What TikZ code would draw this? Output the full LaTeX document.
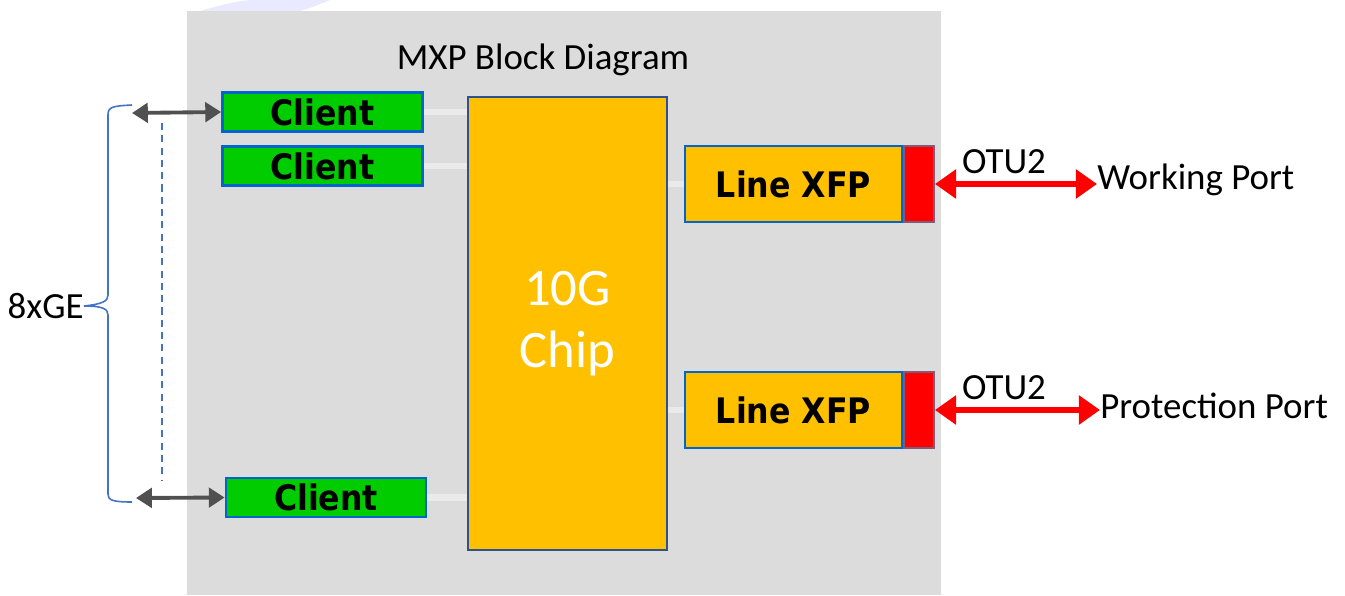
\documentclass[tikz,border=0pt]{standalone}
\usepackage{fontspec}
\setmainfont{Carlito}
\newfontfamily\boldface{DejaVu Sans Condensed}[BoldFont={DejaVu Sans Condensed Bold}]
\usetikzlibrary{arrows.meta}

\definecolor{bggray}{RGB}{220,220,220}
\definecolor{linkgray}{RGB}{234,234,234}
\definecolor{clientgreen}{RGB}{0,204,0}
\definecolor{edgeblue}{RGB}{0,102,204}
\definecolor{chiporange}{RGB}{255,192,0}
\definecolor{chipedge}{RGB}{47,82,143}
\definecolor{portedge}{RGB}{128,90,120}
\definecolor{arrowgray}{RGB}{80,80,80}
\definecolor{braceblue}{RGB}{68,114,196}

\tikzset{
    client/.style={draw=edgeblue, line width=1.6pt, fill=clientgreen, minimum width=4.0cm, minimum height=0.78cm, inner sep=0pt, font=\boldface\bfseries\fontsize{20}{22}\selectfont},
    xfp/.style={draw=edgeblue, line width=1.4pt, fill=chiporange, minimum width=4.34cm, minimum height=1.52cm, inner sep=0pt, font=\boldface\bfseries\fontsize{20}{22}\selectfont},
    port/.style={draw=portedge, line width=1pt, fill=red, minimum width=0.6cm, minimum height=1.52cm, inner sep=0pt},
    link/.style={linkgray, line width=3.5pt},
    gearrow/.style={arrowgray, line width=2.2pt, {Triangle[length=9pt,width=11pt]}-{Triangle[length=9pt,width=11pt]}},
    otuarrow/.style={red, line width=3.4pt, {Triangle[length=12pt,width=16pt]}-{Triangle[length=12pt,width=16pt]}},
    txt/.style={font=\fontsize{21}{24}\selectfont, inner sep=0pt}
}

\begin{document}
\begin{tikzpicture}[x=0.02cm, y=-0.02cm]
    \useasboundingbox (0,0) rectangle (1345,595);
    % faint mark above the panel
    \fill[blue!12, opacity=0.7] (200,11) .. controls (225,4) and (240,0) .. (255,0) -- (330,0) .. controls (318,5) and (308,9) .. (300,11) -- cycle;
    % panel
    \fill[bggray] (187,11) rectangle (941,595);
    \node[txt] (title) at (543,60) {MXP Block Diagram};

    % chip
    \node[draw=chipedge, line width=1.6pt, fill=chiporange, minimum width=3.98cm, minimum height=9.06cm, inner sep=0pt,
          text=white, align=center, font=\fontsize{30}{35}\selectfont] (chip) at (567.5,323.5) {10G\\Chip};

    % clients
    \node[client] (c1) at (322.5,112) {Client};
    \node[client] (c2) at (322.5,166) {Client};
    \node[client] (c3) at (326,497.5) {Client};
    \foreach \c in {c1, c2, c3} {
        \draw[link] (\c.east) -- (\c.east -| chip.west);
    }

    % line side
    \node[xfp] (x1) at (793.5,184) {Line XFP};
    \node[xfp] (x2) at (793.5,410) {Line XFP};
    \node[port, anchor=west] (p1) at (x1.east) {};
    \node[port, anchor=west] (p2) at (x2.east) {};
    \draw[link] (x1.west) -- (x1.west -| chip.east);
    \draw[link] (x2.west) -- (x2.west -| chip.east);

    \node[txt, anchor=west] (wp) at (1097,180) {Working Port};
    \node[txt, anchor=west] (pp) at (1100,406) {Protection Port};
    \draw[otuarrow] (p1.east) -- (p1.east -| wp.west);
    \draw[otuarrow] (p2.east) -- (p2.east -| pp.west);
    \node[txt] (o1) at (1004,162) {OTU2};
    \node[txt] (o2) at (1004,388) {OTU2};

    % 8xGE side
    \coordinate (g1) at (132,113);
    \coordinate (g3) at (136,498);
    \draw[gearrow] (g1) -- (c1.west);
    \draw[gearrow] (g3) -- (c3.west);
    \draw[braceblue, line width=0.8pt, dash pattern=on 4pt off 3pt] (162,123) -- (162,480);
    \node[txt, anchor=east] (ge) at (84,306) {8xGE};
    \draw[braceblue, line width=0.9pt] (132,105) .. controls (112,106) and (108,107) .. (108,115) -- (108,295)
        .. controls (108,301) and (103,304) .. (ge.east) .. controls (103,306) and (108,309) .. (108,315)
        -- (108,494) .. controls (108,500) and (112,502) .. (132,502);
\end{tikzpicture}
\end{document}
